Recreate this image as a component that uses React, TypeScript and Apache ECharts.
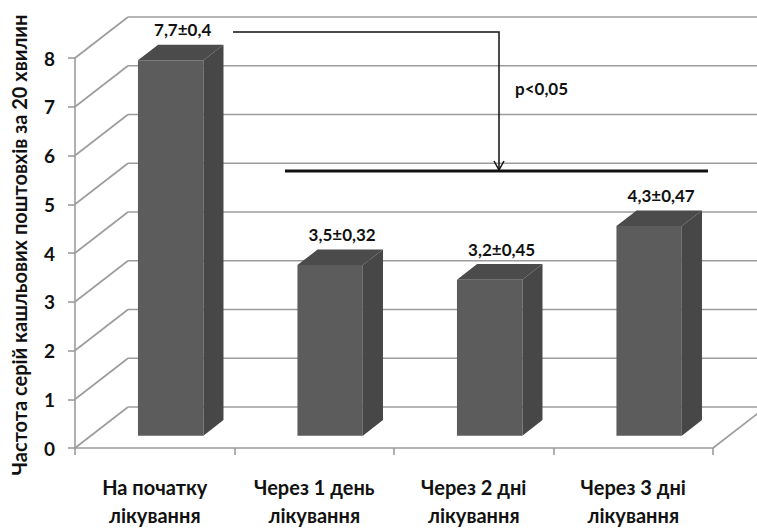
import React, { useEffect, useRef } from "react";
import * as echarts from "echarts";

const categories = ["На початку\nлікування", "Через 1 день\nлікування", "Через 2 дні\nлікування", "Через 3 дні\nлікування"];
const values = [7.7, 3.5, 3.2, 4.3];
const valueLabels = ["7,7±0,4", "3,5±0,32", "3,2±0,45", "4,3±0,47"];
const yTicks = [0, 1, 2, 3, 4, 5, 6, 7, 8];
const axisTitle = "Частота серій кашльових поштовхів за 20 хвилин";
const pText = "p<0,05";

// 3D depth of the plot box (back wall offset relative to front plane)
const DX = 53;
const DY = -41;
// bar front / back depth as fraction of the box depth
const F1 = 0.3;
const F2 = 0.68;
const FONT = "Lato, 'Open Sans', sans-serif";
const GRID = "#9c9c9c";

export default function App() {
  const ref = useRef<HTMLDivElement>(null);

  useEffect(() => {
    document.body.style.margin = "0";
    const chart = echarts.init(ref.current!, null, { renderer: "svg" });

    const wallsRender = (params: any, api: any) => {
      const cs = params.coordSys;
      const L = cs.x;
      const R = cs.x + cs.width;
      const B = cs.y + cs.height;
      const children: any[] = [];
      yTicks.forEach((v) => {
        const yf = api.coord([0, v])[1];
        const yb = yf + DY;
        children.push({
          type: "line",
          shape: { x1: L, y1: yf, x2: L + DX, y2: yb },
          style: { stroke: GRID, lineWidth: 1.6 },
        });
        children.push({
          type: "line",
          shape: { x1: L + DX, y1: yb, x2: R + DX, y2: yb },
          style: { stroke: GRID, lineWidth: 1.6 },
        });
      });
      children.push({
        type: "line",
        shape: { x1: R, y1: B, x2: R + DX, y2: B + DY },
        style: { stroke: GRID, lineWidth: 1.6 },
      });
      return { type: "group", children };
    };

    const barRender = (params: any, api: any) => {
      const idx = api.value(0);
      const v = api.value(1);
      const base = api.coord([idx, 0]);
      const top = api.coord([idx, v]);
      const band = api.size([1, 0])[0];
      const w = band * 0.41;
      const cx = base[0] + DX * F1;
      const y0 = base[1] + DY * F1;
      const y1 = top[1] + DY * F1;
      const x0 = cx - w / 2;
      const x1 = cx + w / 2;
      const ddx = DX * (F2 - F1);
      const ddy = DY * (F2 - F1);
      return {
        type: "group",
        children: [
          {
            type: "polygon",
            shape: { points: [[x1, y1], [x1 + ddx, y1 + ddy], [x1 + ddx, y0 + ddy], [x1, y0]] },
            style: { fill: "#474747" },
          },
          {
            type: "polygon",
            shape: { points: [[x0, y1], [x0 + ddx, y1 + ddy], [x1 + ddx, y1 + ddy], [x1, y1]] },
            style: { fill: "#4b4b4b" },
          },
          {
            type: "rect",
            shape: { x: x0, y: y1, width: w, height: y0 - y1 },
            style: { fill: "#5c5c5c" },
          },
          {
            type: "text",
            x: cx + 12,
            y: y1 + ddy - 15,
            style: {
              text: valueLabels[idx],
              fill: "#111111",
              font: `bold 17px ${FONT}`,
              align: "center",
              verticalAlign: "middle",
            },
          },
        ],
      };
    };

    chart.setOption({
      animation: false,
      backgroundColor: "#ffffff",
      grid: { left: 75, right: 44, top: 58, bottom: 75, containLabel: false },
      xAxis: {
        type: "category",
        data: categories,
        boundaryGap: true,
        axisLine: { show: true, lineStyle: { color: GRID, width: 1.6 } },
        axisTick: { show: true, length: 7, alignWithLabel: false, lineStyle: { color: GRID, width: 1.6 } },
        axisLabel: {
          margin: 25,
          color: "#111111",
          fontFamily: FONT,
          fontWeight: "bold",
          fontSize: 20,
          lineHeight: 28,
        },
        splitLine: { show: false },
      },
      yAxis: {
        type: "value",
        min: 0,
        max: 8,
        interval: 1,
        axisLine: { show: true, lineStyle: { color: GRID, width: 1.6 } },
        axisTick: { show: true, length: 7, lineStyle: { color: GRID, width: 1.6 } },
        axisLabel: {
          margin: 20,
          color: "#111111",
          fontFamily: FONT,
          fontWeight: "bold",
          fontSize: 19,
        },
        splitLine: { show: false },
      },
      series: [
        {
          type: "custom",
          z: 1,
          silent: true,
          renderItem: wallsRender,
          data: [[0, 0]],
        },
        {
          type: "custom",
          z: 2,
          renderItem: barRender,
          data: values.map((v, i) => [i, v]),
        },
      ],
      graphic: [
        {
          type: "text",
          x: 19,
          y: 245,
          rotation: Math.PI / 2,
          style: {
            text: axisTitle,
            fill: "#111111",
            font: `bold 20px ${FONT}`,
            align: "center",
            verticalAlign: "middle",
          },
        },
        {
          type: "polyline",
          shape: { points: [[233, 32], [499, 32], [499, 170]] },
          style: { stroke: "#111", lineWidth: 1.5, fill: null },
          z: 10,
        },
        {
          type: "polyline",
          shape: { points: [[494, 161], [499, 170], [504, 161]] },
          style: { stroke: "#111", lineWidth: 1.5, fill: null },
          z: 10,
        },
        {
          type: "line",
          shape: { x1: 285, y1: 171, x2: 708, y2: 171 },
          style: { stroke: "#111", lineWidth: 3 },
          z: 10,
        },
        {
          type: "text",
          x: 515,
          y: 88,
          style: {
            text: pText,
            fill: "#111111",
            font: `bold 17px ${FONT}`,
            align: "left",
            verticalAlign: "middle",
          },
          z: 10,
        },
      ],
    });

    return () => chart.dispose();
  }, []);

  return <div ref={ref} style={{ width: 757, height: 529 }} />;
}
